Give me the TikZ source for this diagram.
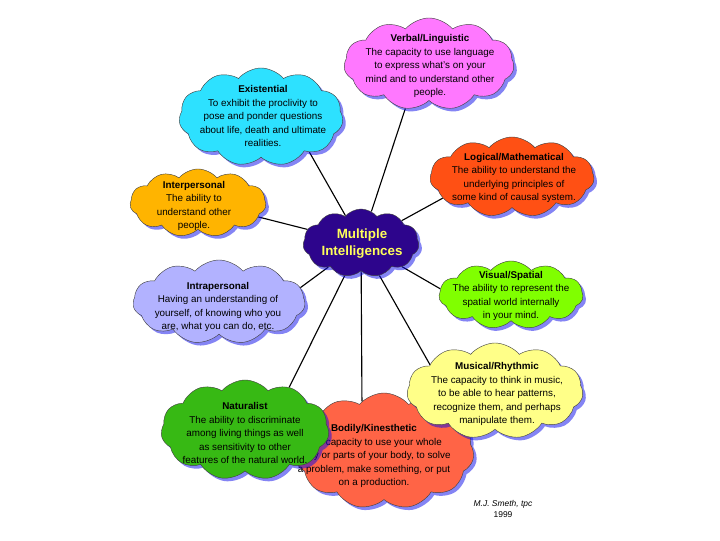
\documentclass[tikz,border=0pt]{standalone}
\usepackage{fontspec}
\setmainfont{Liberation Sans}
\usetikzlibrary{shapes.symbols,shadows,backgrounds}
\definecolor{verbalcol}{RGB}{255,120,255}
\definecolor{existcol}{RGB}{45,225,255}
\definecolor{logiccol}{RGB}{255,80,20}
\definecolor{intercol}{RGB}{255,180,0}
\definecolor{micol}{RGB}{45,5,140}
\definecolor{mitext}{RGB}{255,255,90}
\definecolor{intracol}{RGB}{178,178,255}
\definecolor{visualcol}{RGB}{128,255,0}
\definecolor{musiccol}{RGB}{255,255,136}
\definecolor{naturecol}{RGB}{55,185,20}
\definecolor{bodycol}{RGB}{255,100,70}
\definecolor{shadowblue}{RGB}{10,10,235}
\begin{document}
\begin{tikzpicture}[x=0.025cm,y=-0.025cm,
  idea/.style={cloud, cloud puffs=11, cloud puff arc=100, cloud ignores aspect,
    draw=black!75, line width=0.3pt, inner sep=0pt,
    drop shadow={fill=shadowblue, shadow xshift=2.2pt, shadow yshift=-2.2pt}},
  blurb/.style={align=center, inner sep=0pt, font=\fontsize{7}{9.6}\selectfont},
  link/.style={draw=black, line width=0.8pt}]
\useasboundingbox (0,0) rectangle (720,540);

% the nine intelligences round the centre
\node[idea, fill=verbalcol, minimum width=4.25cm, minimum height=2.3cm] (verbal) at (429,64) {};
\node[blurb] (verbaltxt) at (430,66) {\textbf{Verbal/Linguistic}\\The capacity to use language\\to express what's on your\\mind and to understand other\\people.};

\node[idea, fill=existcol, minimum width=4.1cm, minimum height=2.45cm] (exist) at (261,117) {};
\node[blurb] (existtxt) at (263,116) {\textbf{Existential}\\To exhibit the proclivity to\\pose and ponder questions\\about life, death and ultimate\\realities.};

\node[idea, fill=logiccol, minimum width=4.1cm, minimum height=2.0cm] (logic) at (512,177) {};
\node[blurb] (logictxt) at (514,178) {\textbf{Logical/Mathematical}\\The ability to understand the\\underlying principles of\\some kind of causal system.};

\node[idea, fill=intercol, minimum width=3.4cm, minimum height=1.7cm] (inter) at (198,203) {};
\node[blurb] (intertxt) at (194,206) {\textbf{Interpersonal}\\The ability to\\understand other\\people.};

\node[idea, fill=micol, minimum width=2.9cm, minimum height=1.7cm] (mi) at (361,243) {};
\node[align=center, inner sep=0pt, text=mitext, font=\fontsize{9.5}{12}\selectfont\bfseries] (mitxt) at (362,244) {Multiple\\Intelligences};

\node[idea, fill=intracol, minimum width=4.3cm, minimum height=2.1cm] (intra) at (219,302) {};
\node[blurb] (intratxt) at (218,307) {\textbf{Intrapersonal}\\Having an understanding of\\yourself, of knowing who you\\are, what you can do, etc.};

\node[idea, fill=visualcol, minimum width=3.6cm, minimum height=1.7cm] (visual) at (511,295) {};
\node[blurb] (visualtxt) at (511,296) {\textbf{Visual/Spatial}\\The ability to represent the\\spatial world internally\\in your mind.};

\node[idea, fill=bodycol, minimum width=4.5cm, minimum height=2.9cm] (body) at (384,451) {};
\node[blurb] (bodytxt) at (374,456) {\textbf{Bodily/Kinesthetic}\\The capacity to use your whole\\body or parts of your body, to solve\\a problem, make something, or put\\on a production.};

\node[idea, fill=musiccol, minimum width=4.4cm, minimum height=2.4cm] (music) at (495,391) {};
\node[blurb] (musictxt) at (497,394) {\textbf{Musical/Rhythmic}\\The capacity to think in music,\\to be able to hear patterns,\\recognize them, and perhaps\\manipulate them.};

\node[idea, fill=naturecol, minimum width=4.2cm, minimum height=2.5cm] (nature) at (245,430) {};
\node[blurb] (naturetxt) at (245,433) {\textbf{Naturalist}\\The ability to discriminate\\among living things as well\\as sensitivity to other\\features of the natural world.};

\node[align=center, inner sep=0pt, font=\fontsize{6}{7.5}\selectfont\itshape] (credit) at (503,509) {M.J. Smeth, tpc\\\upshape 1999};

% spokes from the centre, behind the clouds
\begin{scope}[on background layer]
\fill[white] (0,0) rectangle (720,540);
\foreach \n/\a in {verbal/-118, exist/-36, logic/-163, inter/-13, intra/10,
                   visual/175, music/158, nature/44, body/114}
  \draw[link] (mi) -- (\n.\a);
\end{scope}
\end{tikzpicture}
\end{document}
